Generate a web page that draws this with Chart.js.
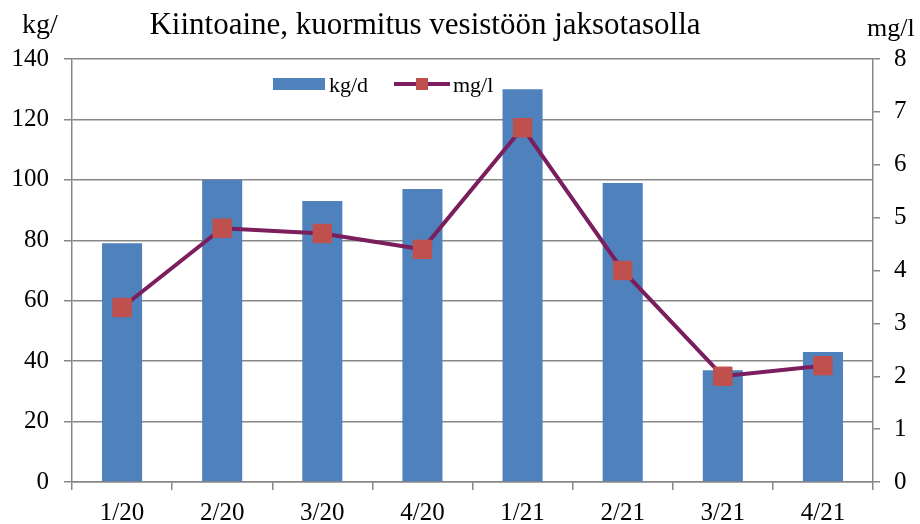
<!DOCTYPE html>
<html>
<head>
<meta charset="utf-8">
<script src="https://cdn.jsdelivr.net/npm/chart.js@4/dist/chart.umd.min.js"></script>
<style>
html,body{margin:0;padding:0;background:#fff;}
#wrap{width:920px;height:524px;position:relative;}
</style>
</head>
<body>
<div id="wrap"><canvas id="c" width="920" height="524"></canvas></div>
<script>
const categories = ['1/20','2/20','3/20','4/20','1/21','2/21','3/21','4/21'];
const kgPerDay = [79, 100, 93, 97, 130, 99, 37, 43];
const mgPerL = [3.3, 4.8, 4.7, 4.4, 6.7, 4.0, 2.0, 2.2];
const leftTicks = [0, 20, 40, 60, 80, 100, 120, 140];
const rightTicks = [0, 1, 2, 3, 4, 5, 6, 7, 8];
const titleText = 'Kiintoaine, kuormitus vesistöön jaksotasolla';
const leftUnit = 'kg/';
const rightUnit = 'mg/l';

const SERIF = '"Liberation Serif", "DejaVu Serif", serif';
const GRID = '#878787';
const BAR = '#4F81BD';
const LINE = '#7B1E5E';
const MARK = '#C0504D';

const decorPlugin = {
  id: 'decor',
  afterDraw(chart) {
    const ctx = chart.ctx;
    ctx.save();
    ctx.fillStyle = '#000';
    ctx.textBaseline = 'alphabetic';
    ctx.font = '31px ' + SERIF;
    ctx.textAlign = 'center';
    ctx.fillText(titleText, 425, 34);
    ctx.textAlign = 'left';
    ctx.font = '28px ' + SERIF;
    ctx.fillText(leftUnit, 22, 33);
    ctx.font = '26px ' + SERIF;
    ctx.fillText(rightUnit, 867, 36);
    // legend
    ctx.fillStyle = BAR;
    ctx.fillRect(273, 78, 52, 12);
    ctx.fillStyle = '#000';
    ctx.font = '22px ' + SERIF;
    ctx.fillText(chart.data.datasets[1].label, 329, 92);
    ctx.strokeStyle = LINE;
    ctx.lineWidth = 4;
    ctx.beginPath();
    ctx.moveTo(394, 84);
    ctx.lineTo(450, 84);
    ctx.stroke();
    ctx.fillStyle = MARK;
    ctx.fillRect(416, 78, 12, 12);
    ctx.fillStyle = '#000';
    ctx.fillText(chart.data.datasets[0].label, 453, 92);
    ctx.restore();
  }
};

new Chart(document.getElementById('c'), {
  type: 'bar',
  data: {
    labels: categories,
    datasets: [
      {
        type: 'line',
        label: 'mg/l',
        data: mgPerL,
        yAxisID: 'y1',
        borderColor: LINE,
        borderWidth: 4,
        pointStyle: 'rect',
        pointRadius: 13,
        pointBackgroundColor: MARK,
        pointBorderColor: MARK,
        pointBorderWidth: 1,
        tension: 0,
        order: 0
      },
      {
        type: 'bar',
        label: 'kg/d',
        data: kgPerDay,
        yAxisID: 'y',
        backgroundColor: BAR,
        borderWidth: 0,
        barPercentage: 0.4,
        categoryPercentage: 1.0,
        order: 1
      }
    ]
  },
  options: {
    responsive: false,
    animation: false,
    devicePixelRatio: 1,
    layout: { padding: { top: 59, left: 0, right: 0, bottom: 0 } },
    plugins: { legend: { display: false }, title: { display: false }, tooltip: { enabled: false } },
    scales: {
      x: {
        offset: true,
        grid: { offset: true, drawOnChartArea: false, drawTicks: true, tickLength: 8, color: GRID, lineWidth: 1.5 },
        border: { color: GRID, width: 1.5 },
        ticks: { font: { family: SERIF, size: 25 }, color: '#000', padding: 8, maxRotation: 0 },
        afterFit(s) { s.height = 42; }
      },
      y: {
        position: 'left',
        min: 0, max: 140,
        afterBuildTicks(s) { s.ticks = leftTicks.map(v => ({ value: v })); },
        grid: { color: GRID, lineWidth: 1.5, tickLength: 8 },
        border: { color: GRID, width: 1.5 },
        ticks: { font: { family: SERIF, size: 25 }, color: '#000', padding: 15 },
        afterFit(s) { s.width = 72; }
      },
      y1: {
        position: 'right',
        min: 0, max: 8,
        afterBuildTicks(s) { s.ticks = rightTicks.map(v => ({ value: v })); },
        grid: { drawOnChartArea: false, color: GRID, lineWidth: 1.5, tickLength: 7 },
        border: { color: GRID, width: 1.5 },
        ticks: { font: { family: SERIF, size: 25 }, color: '#000', padding: 14 },
        afterFit(s) { s.width = 47; }
      }
    }
  },
  plugins: [decorPlugin]
});
</script>
</body>
</html>
